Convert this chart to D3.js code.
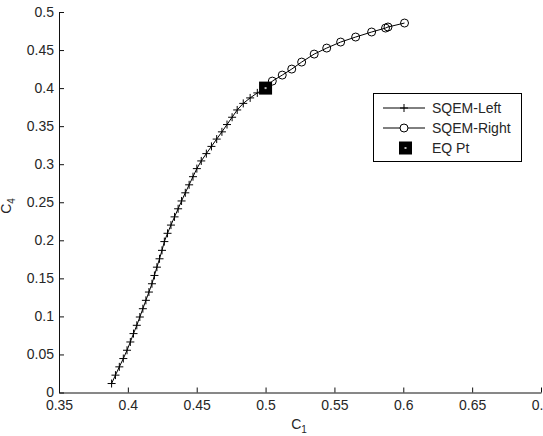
<!DOCTYPE html>
<html>
<head>
<meta charset="utf-8">
<script src="https://cdn.jsdelivr.net/npm/d3@7"></script>
<style>
  body { margin: 0; background: #fff; }
  svg { display: block; font-family: "Liberation Sans", Arial, Helvetica, sans-serif; }
  .axis path, .axis line { stroke: #111; }
  .axis text { font-size: 14px; fill: #262626; font-family: "Liberation Sans", Arial, sans-serif; }
  .label, .legend text { font-size: 14px; fill: #262626; }
</style>
</head>
<body>
<svg id="chart" width="543" height="436"></svg>
<script>
// SQEM-Left branch (plus markers)
const leftC1 = [0.3882, 0.3910, 0.3938, 0.3967, 0.3994, 0.4018, 0.4041, 0.4065, 0.4087, 0.4109,
  0.4131, 0.4153, 0.4175, 0.4193, 0.4211, 0.4230, 0.4248, 0.4265, 0.4288, 0.4313,
  0.4339, 0.4365, 0.4390, 0.4417, 0.4445, 0.4473, 0.4501, 0.4533, 0.4570, 0.4607,
  0.4645, 0.4683, 0.4720, 0.4757, 0.4794, 0.4838, 0.4888, 0.4940, 0.5];
const leftC4 = [0.0118, 0.0228, 0.0337, 0.0446, 0.0555, 0.0664, 0.0774, 0.0883, 0.0992, 0.1101,
  0.1211, 0.1320, 0.1429, 0.1538, 0.1647, 0.1757, 0.1868, 0.1983, 0.2092, 0.2200,
  0.2308, 0.2414, 0.2517, 0.2624, 0.2729, 0.2836, 0.2942, 0.3043, 0.3139, 0.3234,
  0.3330, 0.3425, 0.3521, 0.3617, 0.3713, 0.3799, 0.3871, 0.3937, 0.4];

// SQEM-Right branch (circle markers)
const rightC1 = [0.5, 0.5049, 0.5121, 0.5190, 0.5262, 0.5353, 0.5444, 0.5545, 0.5654, 0.5770, 0.5871, 0.5889, 0.6009];
const rightC4 = [0.4, 0.4092, 0.4171, 0.4250, 0.4342, 0.4447, 0.4526, 0.4605, 0.4671, 0.4737, 0.4789, 0.4803, 0.4855];

// Equilibrium point
const eqC1 = [0.5];
const eqC4 = [0.4];

const xTicks = [0.35, 0.4, 0.45, 0.5, 0.55, 0.6, 0.65, 0.7];
const yTicks = [0, 0.05, 0.1, 0.15, 0.2, 0.25, 0.3, 0.35, 0.4, 0.45, 0.5];
const legendLabels = ['SQEM-Left', 'SQEM-Right', 'EQ Pt'];

const dims = { left: 59, top: 12, innerWidth: 482, innerHeight: 380.5 };

const svg = d3.select('#chart');
const plot = svg.append('g')
  .attr('transform', `translate(${dims.left},${dims.top})`);

const xScale = d3.scaleLinear().domain([0.35, 0.7]).range([0, dims.innerWidth]);
const yScale = d3.scaleLinear().domain([0, 0.5]).range([dims.innerHeight, 0]);

const zip = (xs, ys) => xs.map((x, i) => ({ x, y: ys[i] }));
const leftPts = zip(leftC1, leftC4);
const rightPts = zip(rightC1, rightC4);
const eqPts = zip(eqC1, eqC4);

// Axes: MATLAB style, ticks pointing inward, no box
const tickFmt = d3.format('~g');
plot.append('g')
  .attr('class', 'axis')
  .attr('transform', `translate(0,${dims.innerHeight})`)
  .call(d3.axisBottom(xScale).tickValues(xTicks).tickFormat(tickFmt)
    .tickSizeInner(-5).tickSizeOuter(0).tickPadding(8));

plot.append('g')
  .attr('class', 'axis')
  .call(d3.axisLeft(yScale).tickValues(yTicks).tickFormat(tickFmt)
    .tickSizeInner(-5).tickSizeOuter(0).tickPadding(5));

plot.selectAll('.axis text').attr('font-size', null);

// Curves
const lineGen = d3.line().x(d => xScale(d.x)).y(d => yScale(d.y));
const plusPath = 'M-4,0H4M0,-4V4';

plot.append('path')
  .datum(leftPts)
  .attr('d', lineGen)
  .attr('fill', 'none')
  .attr('stroke', '#000')
  .attr('stroke-width', 1);

plot.selectAll('path.plus')
  .data(leftPts)
  .enter().append('path')
  .attr('class', 'plus')
  .attr('d', plusPath)
  .attr('transform', d => `translate(${xScale(d.x)},${yScale(d.y)})`)
  .attr('stroke', '#000')
  .attr('stroke-width', 1);

plot.append('path')
  .datum(rightPts)
  .attr('d', lineGen)
  .attr('fill', 'none')
  .attr('stroke', '#000')
  .attr('stroke-width', 1);

plot.selectAll('circle.ring')
  .data(rightPts)
  .enter().append('circle')
  .attr('class', 'ring')
  .attr('cx', d => xScale(d.x))
  .attr('cy', d => yScale(d.y))
  .attr('r', 4)
  .attr('fill', 'none')
  .attr('stroke', '#000')
  .attr('stroke-width', 1);

// EQ point: filled square with a faint center
function drawSquare(sel, cx, cy) {
  sel.append('rect')
    .attr('x', cx - 6.5).attr('y', cy - 6.5)
    .attr('width', 13).attr('height', 13)
    .attr('fill', '#000');
  sel.append('rect')
    .attr('x', cx - 1).attr('y', cy - 1)
    .attr('width', 2).attr('height', 2)
    .attr('fill', '#bbb');
}
eqPts.forEach(d => drawSquare(plot, xScale(d.x), yScale(d.y)));

// Axis labels with subscripts
const xLabel = svg.append('text')
  .attr('class', 'label')
  .attr('x', 299)
  .attr('y', 429)
  .attr('text-anchor', 'middle');
xLabel.append('tspan').text('C');
xLabel.append('tspan').attr('font-size', 10).attr('dy', 4).text('1');

const yLabel = svg.append('text')
  .attr('class', 'label')
  .attr('transform', 'translate(11,206) rotate(-90)')
  .attr('text-anchor', 'middle');
yLabel.append('tspan').text('C');
yLabel.append('tspan').attr('font-size', 10).attr('dy', 4).text('4');

// Legend
const legend = svg.append('g').attr('class', 'legend');
legend.append('rect')
  .attr('x', 373.5).attr('y', 93.5)
  .attr('width', 148).attr('height', 68)
  .attr('fill', '#fff')
  .attr('stroke', '#000')
  .attr('stroke-width', 1);

const rowY = i => 108 + i * 20;
legendLabels.forEach((label, i) => {
  const y = rowY(i);
  if (i < 2) {
    legend.append('line')
      .attr('x1', 383).attr('x2', 425)
      .attr('y1', y).attr('y2', y)
      .attr('stroke', '#000');
  }
  if (i === 0) {
    legend.append('path').attr('d', plusPath)
      .attr('transform', `translate(404,${y})`)
      .attr('stroke', '#000');
  } else if (i === 1) {
    legend.append('circle').attr('cx', 404).attr('cy', y).attr('r', 4)
      .attr('fill', '#fff').attr('stroke', '#000');
  } else {
    drawSquare(legend, 405.5, y);
  }
  legend.append('text')
    .attr('x', 432)
    .attr('y', y + 5)
    .text(label);
});
</script>
</body>
</html>
